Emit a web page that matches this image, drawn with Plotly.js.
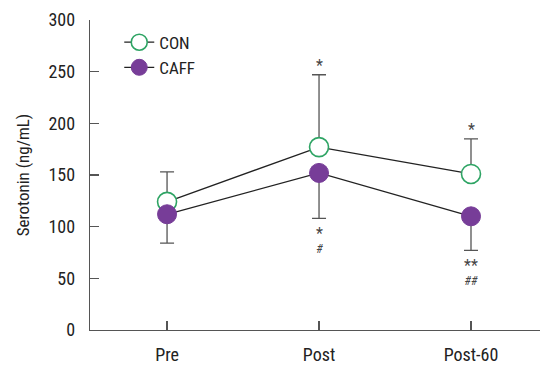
<!DOCTYPE html>
<html>
<head>
<meta charset="utf-8">
<script src="https://cdn.plot.ly/plotly-3.0.1.min.js"></script>
<style>html,body{margin:0;padding:0;background:#fff;}#chart{width:540px;height:367px;}</style>
</head>
<body>
<div id="chart"></div>
<script>
const categories = ['Pre', 'Post', 'Post-60'];
const conMean = [124, 177, 151];
const conSD = [29, 70, 34];
const caffMean = [112, 152, 110];
const caffSD = [28, 44, 33];
const yTicks = [0, 50, 100, 150, 200, 250, 300];
const conStars = ['', '*', '*'];
const caffStars = ['', '*', '**'];
const caffHashes = ['', '#', '##'];

const FONT = '"Roboto Condensed", Roboto, sans-serif';
const axisColor = '#555555';
const textColor = '#222222';

const zeros = categories.map(() => 0);

const traces = [
  {
    x: categories, y: conMean, name: 'CON', type: 'scatter', mode: 'lines+markers',
    line: {color: '#222222', width: 1.3},
    marker: {size: 19, color: '#ffffff', line: {color: '#2ea464', width: 1.6}},
    error_y: {type: 'data', symmetric: false, array: conSD, arrayminus: zeros,
      color: axisColor, thickness: 1.3, width: 7}
  },
  {
    x: categories, y: caffMean, name: 'CAFF', type: 'scatter', mode: 'lines+markers',
    line: {color: '#222222', width: 1.3},
    marker: {size: 19, color: '#773d98', line: {color: '#773d98', width: 1}},
    error_y: {type: 'data', symmetric: false, array: zeros, arrayminus: caffSD,
      color: axisColor, thickness: 1.3, width: 7}
  }
];

const annotations = [];
categories.forEach((c, i) => {
  if (conStars[i]) {
    annotations.push({x: c, y: conMean[i] + conSD[i], text: conStars[i], showarrow: false,
      yanchor: 'middle', yshift: 9, font: {family: FONT, size: 16, color: '#444'}});
  }
  if (caffStars[i]) {
    annotations.push({x: c, y: caffMean[i] - caffSD[i],
      text: '<span style="font-size:16px">' + caffStars[i] + '</span><br><i><span style="font-size:12px">' + caffHashes[i] + '</span></i>',
      showarrow: false, yanchor: 'top', yshift: -4,
      font: {family: FONT, size: 11, color: '#444'}});
  }
});

const layout = {
  width: 540, height: 367,
  margin: {l: 90, r: 0, t: 20, b: 37},
  paper_bgcolor: '#ffffff', plot_bgcolor: '#ffffff',
  font: {family: FONT, size: 18, color: textColor},
  showlegend: true,
  legend: {x: 0.065, y: 0.985, xanchor: 'left', yanchor: 'top', bgcolor: 'rgba(0,0,0,0)',
    font: {family: FONT, size: 17, color: textColor}, tracegroupgap: 0},
  xaxis: {
    type: 'category', range: [-0.507, 2.454], showline: true, linecolor: axisColor, linewidth: 1.3,
    ticks: 'inside', ticklen: 9, tickcolor: axisColor, tickwidth: 1.3,
    showgrid: false, zeroline: false, tickfont: {family: FONT, size: 18, color: textColor},
    ticklabelstandoff: 8
  },
  yaxis: {
    range: [0, 300], tickvals: yTicks, showline: true, linecolor: axisColor, linewidth: 1.3,
    ticks: 'inside', ticklen: 9, tickcolor: axisColor, tickwidth: 1.3,
    showgrid: false, zeroline: false, tickfont: {family: FONT, size: 18, color: textColor},
    title: {text: 'Serotonin (ng/mL)', font: {family: FONT, size: 17, color: textColor}, standoff: 14},
    ticklabelstandoff: 10
  },
  annotations: annotations
};

Plotly.newPlot('chart', traces, layout, {displayModeBar: false, staticPlot: true});
</script>
</body>
</html>
